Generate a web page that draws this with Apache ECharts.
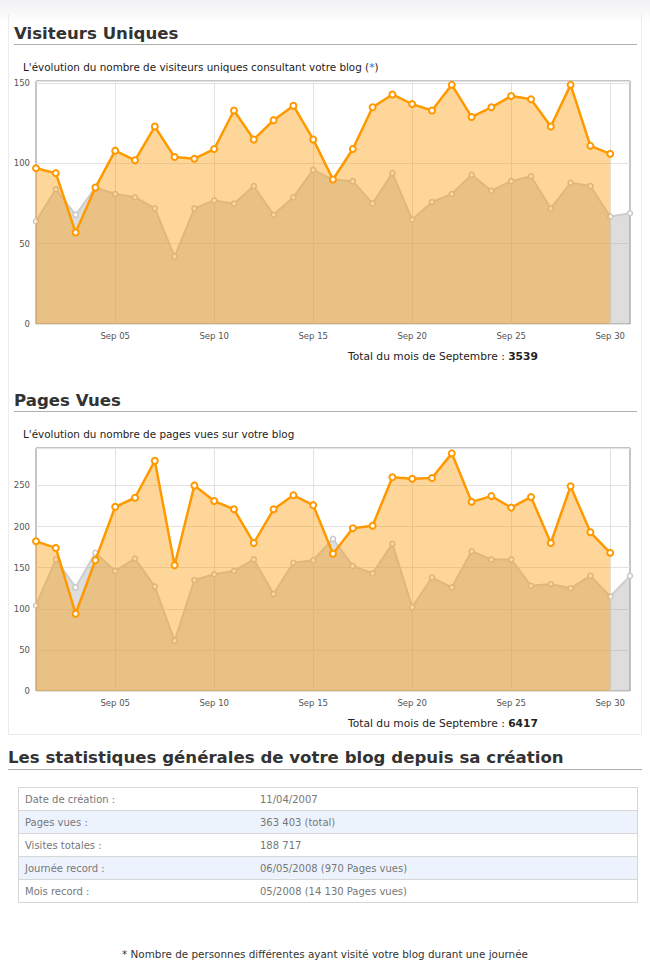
<!DOCTYPE html>
<html><head><meta charset="utf-8">
<script src="https://cdn.jsdelivr.net/npm/echarts@6/dist/echarts.min.js"></script>
<style>
html,body{margin:0;padding:0;width:650px;height:972px;background:#fff;font-family:"DejaVu Sans",sans-serif;overflow:hidden;position:relative}
#topbar{position:absolute;left:0;top:0;width:650px;height:24px;background:linear-gradient(#f1f1f4,#fff)}
#box{position:absolute;left:8px;top:14px;width:632px;height:720px;border:1px solid #ececec;border-top:none}
#chart{position:absolute;left:0;top:0;width:650px;height:972px}
.t{position:absolute;white-space:nowrap;color:#333}
.h{font-weight:bold;font-size:16.6px;line-height:20px;color:#333}
.rule{position:absolute;height:1px;background:#b0b0b0}
.sub{font-size:10.4px;line-height:13px;color:#222}
.tot{font-size:10.7px;line-height:13px;color:#222}
.tot b{font-weight:bold}
table{position:absolute;left:18px;top:787px;width:620px;border-collapse:collapse;font-size:10px;color:#777}
td{height:22px;padding:0 0 0 6px;border-top:1px solid #d6d6d6;border-bottom:1px solid #d6d6d6}
tr.alt td{background:#edf3fd}
table{border-left:1px solid #d6d6d6;border-right:1px solid #d6d6d6}
td.c2{padding-left:0}
</style></head><body>
<div id="topbar"></div>
<div id="box"></div>
<div id="chart"></div>
<div class="t h" style="left:14px;top:24px">Visiteurs Uniques</div>
<div class="rule" style="left:14px;top:44px;width:623px"></div>
<div class="t sub" style="left:23px;top:61px">L'évolution du nombre de visiteurs uniques consultant votre blog (<span style="color:#36c">*</span>)</div>
<div class="t tot" style="left:348px;top:350px">Total du mois de Septembre : <b>3539</b></div>
<div class="t h" style="left:14px;top:391px">Pages Vues</div>
<div class="rule" style="left:14px;top:411px;width:623px"></div>
<div class="t sub" style="left:23px;top:428px">L'évolution du nombre de pages vues sur votre blog</div>
<div class="t tot" style="left:348px;top:717px">Total du mois de Septembre : <b>6417</b></div>
<div class="t h" style="left:8px;top:748px">Les statistiques générales de votre blog depuis sa création</div>
<div class="rule" style="left:8px;top:769px;width:634px"></div>
<table id="stats"></table>
<div class="t sub" style="left:0;width:650px;text-align:center;top:948px;font-size:10.4px;color:#333">* Nombre de personnes différentes ayant visité votre blog durant une journée</div>
<script>
// ---- data ----
const days = ['01','02','03','04','05','06','07','08','09','10','11','12','13','14','15','16','17','18','19','20','21','22','23','24','25','26','27','28','29','30','31'];
const monthLabel = 'Sep';
const visitorsCurrent = [97,94,57,85,108,102,123,104,103,109,133,115,127,136,115,90,109,135,143,137,133,149,129,135,142,140,123,149,111,106];
const visitorsPrevious = [64,84,68,85,81,79,72,42,72,77,75,86,68,79,96,90,89,75,94,65,76,81,93,83,89,92,72,88,86,67,69];
const pagesCurrent = [182,174,94,159,224,235,280,153,250,231,221,180,221,238,226,167,198,201,260,258,259,289,230,237,223,236,180,249,193,168];
const pagesPrevious = [104,160,126,168,146,161,127,61,135,142,146,160,118,156,159,185,152,143,179,102,138,126,170,160,160,128,130,125,140,115,140];
const yTicksVisitors = [0,50,100,150];
const yTicksPages = [0,50,100,150,200,250];
const statLabels = ['Date de création :','Pages vues :','Visites totales :','Journée record :','Mois record :'];
const statValues = ['11/04/2007','363 403 (total)','188 717','06/05/2008 (970 Pages vues)','05/2008 (14 130 Pages vues)'];

// ---- table ----
const tb = document.getElementById('stats');
statLabels.forEach((l,i)=>{
  const tr = document.createElement('tr');
  if(i%2===1) tr.className='alt';
  const a=document.createElement('td'); a.textContent=l; a.style.width='235px';
  const b=document.createElement('td'); b.textContent=statValues[i]; b.className='c2';
  tr.appendChild(a); tr.appendChild(b); tb.appendChild(tr);
});

// ---- chart ----
const chart = echarts.init(document.getElementById('chart'), null, {renderer:'svg'});
const lblStyle = {color:'#545454', fontSize:8.5, fontFamily:'DejaVu Sans'};
function xAx(gi){
  return {type:'category', gridIndex:gi, data:days, boundaryGap:false,
    axisLine:{show:false}, axisTick:{show:false},
    axisLabel:Object.assign({interval:(i)=>(i+1)%5===0 && i<30, formatter:(v)=>monthLabel+' '+v, margin:7}, lblStyle),
    splitLine:{show:true, interval:(i)=>(i+1)%5===0 && i<30, lineStyle:{color:'#e2e2e2'}}};
}
function yAx(gi, ticks, max){
  return {type:'value', gridIndex:gi, min:0, max:max, interval:50,
    axisLine:{show:false}, axisTick:{show:false},
    axisLabel:Object.assign({margin:6, formatter:(v)=> ticks.indexOf(v)>=0 ? String(v) : ''}, lblStyle),
    splitLine:{lineStyle:{color:'#e2e2e2'}}};
}
function ser(gi, prev, cur){
  return [
    {type:'line', xAxisIndex:gi, yAxisIndex:gi, data:prev, z:2, symbol:'circle', symbolSize:5, showAllSymbol:true,
     lineStyle:{color:'#cdcdcd', width:2}, itemStyle:{color:'#fff', borderColor:'#c8c8c8', borderWidth:1.5},
     areaStyle:{color:'rgba(170,170,170,0.4)', opacity:1}, silent:true},
    {type:'line', xAxisIndex:gi, yAxisIndex:gi, data:cur, z:3, symbol:'circle', symbolSize:6, showAllSymbol:true,
     lineStyle:{color:'#ff9900', width:2.5}, itemStyle:{color:'#fff', borderColor:'#ff9900', borderWidth:2},
     areaStyle:{color:'rgba(255,153,0,0.4)', opacity:1}, silent:true}
  ];
}
chart.setOption({
  animation:false,
  grid:[
    {left:36, top:81, width:594, height:243, show:true, borderColor:'#8a8a8a', borderWidth:1},
    {left:36, top:448, width:594, height:243, show:true, borderColor:'#8a8a8a', borderWidth:1}
  ],
  xAxis:[xAx(0), xAx(1)],
  yAxis:[yAx(0, yTicksVisitors, 151.4), yAx(1, yTicksPages, 295.5)],
  series:[].concat(ser(0, visitorsPrevious, visitorsCurrent), ser(1, pagesPrevious, pagesCurrent))
});
</script>
</body></html>
